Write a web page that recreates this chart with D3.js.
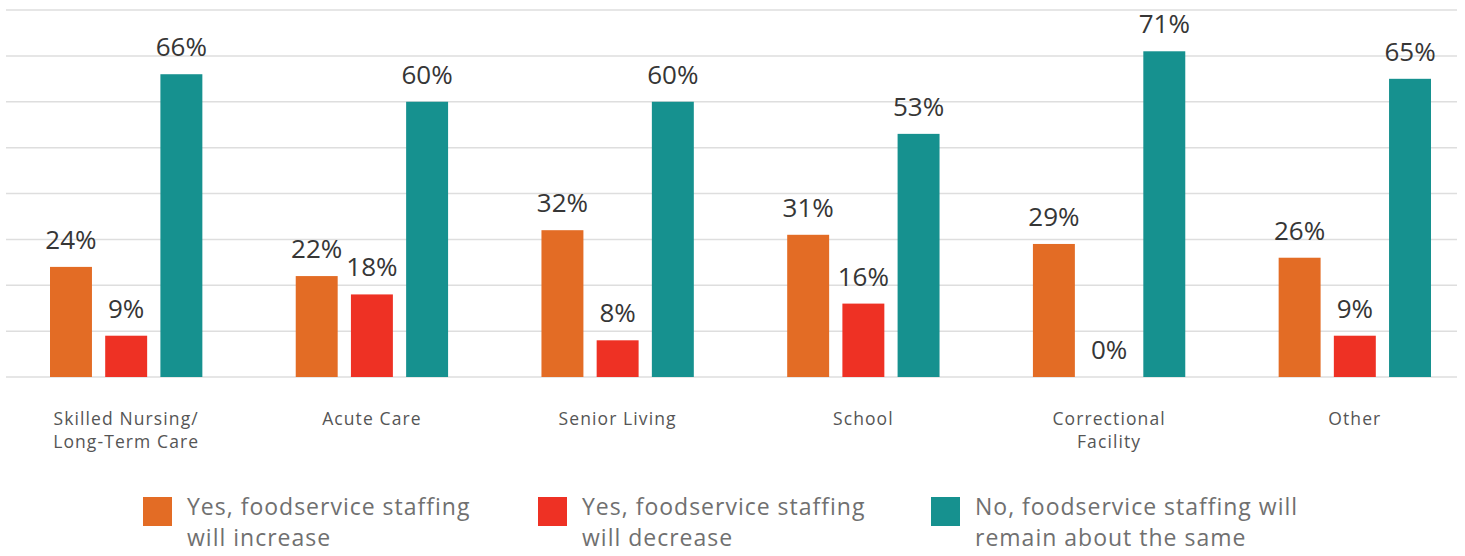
<!doctype html>
<html>
  <head>
    <meta charset="utf-8" />
    <title>Foodservice staffing</title>
    <style>
      body {
        margin: 0;
        background: #fff;
      }
      svg {
        display: block;
      }
      .value {
        font-family: "Open Sans", sans-serif;
        font-weight: 500;
        font-size: 26px;
        fill: #363636;
      }
      .cat {
        font-family: "Open Sans", sans-serif;
        font-size: 17.5px;
        fill: #555;
        letter-spacing: 1.1px;
      }
      .legend text {
        font-family: "Open Sans", sans-serif;
        font-size: 23px;
        fill: #707070;
        letter-spacing: 1px;
      }
    </style>
  </head>
  <body>
    <svg id="chart"></svg>
    <script src="https://d3js.org/d3.v7.min.js"></script>
    <script>
      // data
      const categories = [
        ["Skilled Nursing/", "Long-Term Care"],
        ["Acute Care"],
        ["Senior Living"],
        ["School"],
        ["Correctional", "Facility"],
        ["Other"],
      ];
      const seriesNames = [
        ["Yes, foodservice staffing", "will increase"],
        ["Yes, foodservice staffing", "will decrease"],
        ["No, foodservice staffing will", "remain about the same"],
      ];
      const increase = [24, 22, 32, 31, 29, 26];
      const decrease = [9, 18, 8, 16, 0, 9];
      const same = [66, 60, 60, 53, 71, 65];
      const colors = ["#e36c25", "#ee3124", "#16918f"];
      const gridTicks = [0, 10, 20, 30, 40, 50, 60, 70, 80];

      const width = 1465;
      const height = 556;
      const series = [increase, decrease, same];

      const svg = d3
        .select("#chart")
        .attr("width", width)
        .attr("height", height);

      const catKeys = categories.map((c) => c.join(" "));

      const x = d3
        .scaleBand()
        .domain(catKeys)
        .range([50, 1431])
        .paddingInner(0.38)
        .paddingOuter(0);

      const xs = d3
        .scaleBand()
        .domain(d3.range(series.length))
        .range([0, x.bandwidth()])
        .paddingInner(0.24);

      const y = d3.scaleLinear().domain([0, 80]).range([377, 10]);

      // gridlines
      svg
        .append("g")
        .selectAll("line")
        .data(gridTicks)
        .enter()
        .append("line")
        .attr("x1", 6)
        .attr("x2", 1457)
        .attr("y1", (d) => y(d))
        .attr("y2", (d) => y(d))
        .attr("stroke", "#dedede")
        .attr("stroke-width", 1.5);

      // bars
      const groups = svg
        .append("g")
        .selectAll("g")
        .data(catKeys)
        .enter()
        .append("g")
        .attr("transform", (d) => `translate(${x(d)},0)`);

      groups
        .selectAll("rect")
        .data((d, i) => series.map((s, j) => ({ s: j, v: s[i] })))
        .enter()
        .append("rect")
        .attr("x", (d) => xs(d.s))
        .attr("width", xs.bandwidth())
        .attr("y", (d) => y(d.v))
        .attr("height", (d) => y(0) - y(d.v))
        .attr("fill", (d) => colors[d.s]);

      groups
        .selectAll("text.value")
        .data((d, i) => series.map((s, j) => ({ s: j, v: s[i] })))
        .enter()
        .append("text")
        .attr("class", "value")
        .attr("x", (d) => xs(d.s) + xs.bandwidth() / 2)
        .attr("y", (d) => y(d.v) - 18)
        .attr("text-anchor", "middle")
        .text((d) => d.v + "%");

      // category labels
      const cats = svg
        .append("g")
        .selectAll("text")
        .data(categories)
        .enter()
        .append("text")
        .attr("class", "cat")
        .attr("text-anchor", "middle")
        .attr("x", (d, i) => x(catKeys[i]) + x.bandwidth() / 2)
        .attr("y", 425);

      cats
        .selectAll("tspan")
        .data((d) => d)
        .enter()
        .append("tspan")
        .attr("x", function () {
          return d3.select(this.parentNode).attr("x");
        })
        .attr("dy", (d, i) => (i === 0 ? 0 : 23))
        .text((d) => d);

      // legend
      const legendX = [143, 538, 931];
      const legend = svg
        .append("g")
        .attr("class", "legend")
        .selectAll("g")
        .data(seriesNames)
        .enter()
        .append("g")
        .attr("transform", (d, i) => `translate(${legendX[i]},497)`);

      legend
        .append("rect")
        .attr("width", 29)
        .attr("height", 29)
        .attr("fill", (d, i) => colors[i]);

      legend
        .append("text")
        .selectAll("tspan")
        .data((d) => d)
        .enter()
        .append("tspan")
        .attr("x", 44)
        .attr("y", (d, i) => 18 + i * 31)
        .text((d) => d);
    </script>
  </body>
</html>
